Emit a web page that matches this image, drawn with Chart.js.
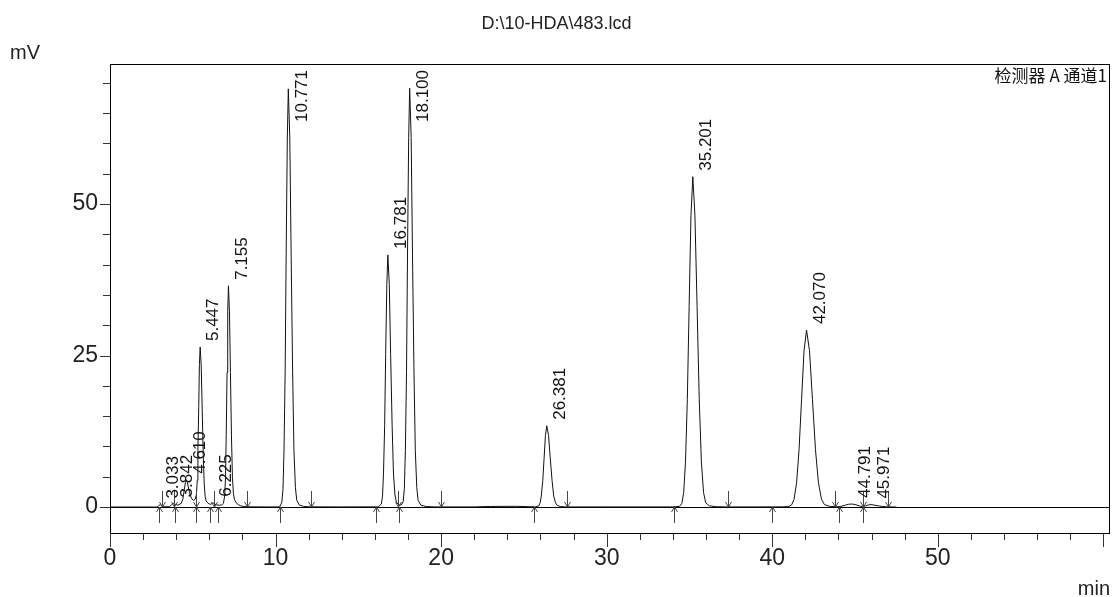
<!DOCTYPE html>
<html>
<head>
<meta charset="utf-8">
<script src="https://cdn.jsdelivr.net/npm/chart.js@4.4.1/dist/chart.umd.min.js"></script>
<style>
  body { margin: 0; background: #fff; }
  #wrap { width: 1113px; height: 597px; }
</style>
</head>
<body>
<div id="wrap"><canvas id="chrom" width="1113" height="597"></canvas></div>
<script>
// retention time (min) and detector signal (mV)
const times = [
  0, 2.8,
  2.9, 2.97, 3.033, 3.1, 3.2,
  3.6, 3.72, 3.842, 3.95, 4.1,
  4.3, 4.4, 4.49, 4.55, 4.61, 4.68, 4.76, 4.85, 4.95, 5.05,
  5.15, 5.22, 5.27, 5.31, 5.36, 5.40, 5.447, 5.51, 5.57, 5.63, 5.69, 5.75, 5.81, 5.93, 6.05,
  6.15, 6.225, 6.32, 6.45, 6.6, 6.75,
  6.85, 6.93, 6.98, 7.02, 7.07, 7.11, 7.155, 7.215, 7.275, 7.335, 7.395, 7.455, 7.52, 7.62, 7.75, 7.9, 8.1, 8.4,
  9.5, 10.25,
  10.38, 10.45, 10.51, 10.58, 10.64, 10.71, 10.771, 10.86, 10.94, 11.03, 11.11, 11.20, 11.28, 11.45, 11.7, 12.1,
  14.0, 16.2,
  16.39, 16.46, 16.52, 16.59, 16.65, 16.72, 16.781, 16.87, 16.95, 17.04, 17.12, 17.21, 17.3, 17.4, 17.5, 17.6,
  17.71, 17.78, 17.84, 17.91, 17.97, 18.04, 18.10, 18.19, 18.27, 18.36, 18.44, 18.53, 18.61, 18.78, 19.1, 19.6,
  22.0, 23.0, 24.5, 25.7,
  25.9, 25.98, 26.05, 26.14, 26.22, 26.30, 26.381, 26.49, 26.59, 26.70, 26.80, 26.91, 27.02, 27.2, 27.5,
  30.0, 34.0,
  34.4, 34.54, 34.65, 34.76, 34.87, 34.98, 35.09, 35.201, 35.33, 35.46, 35.59, 35.72, 35.85, 35.98, 36.2, 36.6, 37.2,
  39.0, 40.7,
  41.0, 41.17, 41.32, 41.47, 41.62, 41.77, 41.92, 42.07, 42.25, 42.43, 42.61, 42.79, 42.97, 43.15, 43.5, 43.9,
  44.1, 44.4, 44.6, 44.791, 45.0, 45.25, 45.45, 45.65, 45.8, 45.971, 46.2, 46.5, 46.9, 47.5
];
const signal = [
  0, 0,
  0.05, 0.3, 0.4, 0.25, 0.05,
  0.05, 0.4, 0.6, 0.45, 0.3,
  0.6, 1.3, 2.9, 4.0, 4.5, 4.0, 2.9, 1.9, 1.3, 1.1,
  1.3, 2.1, 4.4, 9.4, 16.6, 23.5, 26.4, 23.3, 16.0, 8.6, 3.8, 1.7, 1.0, 0.6, 0.45,
  0.55, 0.7, 0.5, 0.35, 0.3, 0.35,
  0.6, 1.9, 5.2, 12.0, 22.2, 32.2, 36.5, 32.2, 22.2, 11.9, 4.9, 2.2, 1.2, 0.7, 0.4, 0.2, 0.08, 0.03,
  0.02, 0.02,
  0.8, 3.0, 9.3, 22.4, 41.8, 60.9, 69.0, 60.9, 41.8, 22.4, 9.3, 3.2, 1.1, 0.3, 0.1, 0.03,
  0.02, 0.03,
  0.5, 1.8, 5.6, 13.5, 25.2, 36.7, 41.6, 36.7, 25.2, 13.5, 5.6, 2.0, 0.8, 0.45, 0.35, 0.35,
  0.9, 3.1, 9.3, 22.4, 41.9, 61.0, 69.1, 61.0, 41.9, 22.4, 9.3, 3.2, 1.1, 0.3, 0.08, 0.02,
  0.02, 0.1, 0.12, 0.03,
  0.2, 0.7, 1.8, 4.4, 8.1, 11.8, 13.4, 11.8, 8.1, 4.4, 1.8, 0.7, 0.25, 0.08, 0.02,
  0.02, 0.02,
  0.1, 0.6, 2.4, 7.4, 17.7, 33.1, 48.1, 54.5, 48.1, 33.1, 17.7, 7.4, 2.4, 0.7, 0.2, 0.05, 0.02,
  0.02, 0.03,
  0.08, 0.35, 1.3, 4.0, 9.5, 17.7, 25.8, 29.2, 25.8, 17.7, 9.5, 4.0, 1.3, 0.4, 0.1, 0.05,
  0.08, 0.3, 0.45, 0.5, 0.42, 0.2, 0.05, 0.2, 0.35, 0.4, 0.3, 0.15, 0.03, 0
];

// peak retention times printed above each peak
const peakTimes = [3.033, 3.842, 4.610, 5.447, 6.225, 7.155, 10.771, 16.781, 18.100, 26.381, 35.201, 42.070, 44.791, 45.971];
// integration marks: peak start (arrow up) and peak end (arrow down)
const startMarks = [2.95, 3.9, 5.2, 6.05, 6.5, 10.28, 16.08, 17.47, 25.63, 34.04, 40.0, 44.05, 45.46];
const endMarks = [3.15, 3.85, 5.2, 6.3, 8.3, 12.15, 17.38, 20.0, 27.63, 37.3, 43.8, 45.46, 47.0];

const xLabels = [0, 10, 20, 30, 40, 50];
const yLabels = [0, 25, 50];

const titleText = 'D:\\10-HDA\\483.lcd';
const channelText = '检测器 A 通道1';

const X_MIN = 0, X_MAX = 60.4;
const Y_MIN = -4.45, Y_MAX = 73.1;

function valueAt(t) {
  let best = 0;
  for (let i = 1; i < times.length; i++) {
    if (Math.abs(times[i] - t) < Math.abs(times[best] - t)) best = i;
  }
  return signal[best];
}

// frame, ticks, zero line, integration arrows and the text
const decor = {
  id: 'decor',
  beforeDatasetsDraw(chart) {
    const { ctx, chartArea: a, scales: { y } } = chart;
    const y0 = Math.round(y.getPixelForValue(0)) + 0.5;
    ctx.save();
    ctx.strokeStyle = '#000';
    ctx.lineWidth = 1;
    ctx.beginPath();
    ctx.moveTo(a.left - 10, y0);
    ctx.lineTo(a.right, y0);
    ctx.stroke();
    ctx.restore();
  },
  afterDraw(chart) {
    const { ctx, chartArea: a, scales: { x, y } } = chart;
    ctx.save();
    ctx.strokeStyle = '#000';
    ctx.lineWidth = 1;
    ctx.strokeRect(Math.round(a.left) + 0.5, Math.round(a.top) + 0.5,
      Math.round(a.right - a.left) - 1, Math.round(a.bottom - a.top) - 1);

    // axis ticks
    ctx.strokeStyle = '#333';
    ctx.beginPath();
    for (let t = 0; t <= 60; t += 2) {
      const px = Math.round(x.getPixelForValue(t)) + 0.5;
      const len = t % 10 === 0 ? 13 : 6;
      ctx.moveTo(px, a.bottom);
      ctx.lineTo(px, a.bottom + len);
    }
    for (let v = 0; v <= 70; v += 5) {
      const py = Math.round(y.getPixelForValue(v)) + 0.5;
      const len = v % 25 === 0 ? 10 : 7;
      ctx.moveTo(a.left, py);
      ctx.lineTo(a.left - len, py);
    }
    ctx.stroke();

    // integration arrows
    const y0 = Math.round(y.getPixelForValue(0));
    ctx.strokeStyle = '#444';
    ctx.beginPath();
    startMarks.forEach(t => {
      const px = Math.round(x.getPixelForValue(t)) + 0.5;
      ctx.moveTo(px, y0 + 16);
      ctx.lineTo(px, y0);
      ctx.moveTo(px - 3, y0 + 5);
      ctx.lineTo(px, y0);
      ctx.lineTo(px + 3, y0 + 5);
    });
    endMarks.forEach(t => {
      const px = Math.round(x.getPixelForValue(t)) + 0.5;
      ctx.moveTo(px, y0 - 16);
      ctx.lineTo(px, y0);
      ctx.moveTo(px - 3, y0 - 5);
      ctx.lineTo(px, y0);
      ctx.lineTo(px + 3, y0 - 5);
    });
    ctx.stroke();

    // peak labels, rotated
    ctx.fillStyle = '#111';
    ctx.font = '17px "Liberation Sans", Arial, sans-serif';
    peakTimes.forEach(t => {
      const label = t.toFixed(3);
      const px = x.getPixelForValue(t);
      const py = y.getPixelForValue(valueAt(t));
      const w = ctx.measureText(label).width;
      let bottom = py - 6;
      if (bottom - w < a.top + 6) bottom = a.top + 6 + w;
      ctx.save();
      ctx.translate(px + 5, bottom);
      ctx.rotate(-Math.PI / 2);
      ctx.textAlign = 'left';
      ctx.textBaseline = 'top';
      ctx.fillText(label, 0, 0);
      ctx.restore();
    });

    // channel name
    ctx.font = '17px "Noto Sans CJK SC", sans-serif';
    ctx.textAlign = 'right';
    ctx.textBaseline = 'top';
    ctx.fillText(channelText, a.right - 3, a.top + 3);

    // title and units
    ctx.fillStyle = '#222';
    ctx.font = '18px "Liberation Sans", Arial, sans-serif';
    ctx.textAlign = 'center';
    ctx.textBaseline = 'alphabetic';
    ctx.fillText(titleText, chart.width / 2, 29);
    ctx.font = '20px "Liberation Sans", Arial, sans-serif';
    ctx.textAlign = 'left';
    ctx.fillText('mV', 10, 59);
    ctx.textAlign = 'right';
    ctx.fillText('min', 1110, 595);
    ctx.restore();
  }
};

new Chart(document.getElementById('chrom'), {
  type: 'scatter',
  data: {
    datasets: [{
      label: channelText,
      data: times.map((t, i) => ({ x: t, y: signal[i] })),
      showLine: true,
      borderColor: '#111',
      borderWidth: 1,
      pointRadius: 0,
      tension: 0
    }]
  },
  options: {
    responsive: false,
    animation: false,
    layout: { padding: { top: 64, right: 3, left: 0, bottom: 0 } },
    plugins: {
      legend: { display: false },
      tooltip: { enabled: false }
    },
    scales: {
      x: {
        type: 'linear',
        min: X_MIN,
        max: X_MAX,
        afterBuildTicks: s => { s.ticks = xLabels.map(v => ({ value: v })); },
        afterFit: s => { s.height = 63; },
        grid: { display: false, drawTicks: false },
        border: { display: false },
        ticks: {
          padding: 11,
          color: '#222',
          font: { family: '"Liberation Sans", Arial, sans-serif', size: 23 },
          maxRotation: 0
        }
      },
      y: {
        type: 'linear',
        min: Y_MIN,
        max: Y_MAX,
        afterBuildTicks: s => { s.ticks = yLabels.map(v => ({ value: v })); },
        afterFit: s => { s.width = 110; },
        grid: { display: false, drawTicks: false },
        border: { display: false },
        ticks: {
          padding: 12,
          color: '#222',
          font: { family: '"Liberation Sans", Arial, sans-serif', size: 23 }
        }
      }
    }
  },
  plugins: [decor]
});
</script>
</body>
</html>
